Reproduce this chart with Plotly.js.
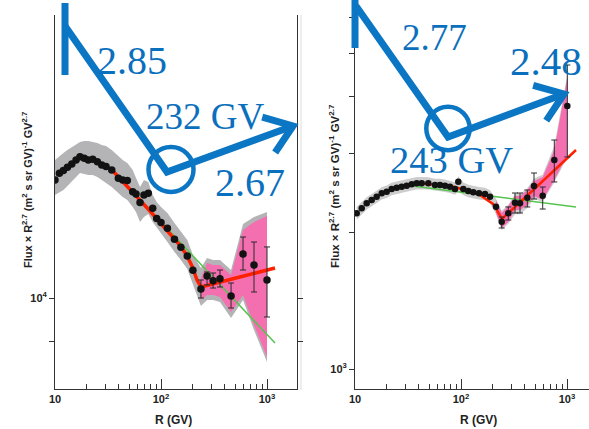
<!DOCTYPE html>
<html>
<head>
<meta charset="utf-8">
<script src="https://cdn.plot.ly/plotly-3.0.1.min.js"></script>
<style>
  html, body { margin: 0; padding: 0; background: #fff; }
  #chart { width: 589px; height: 429px; }
</style>
</head>
<body>
<div id="chart"></div>
<script>
// ---------- Proton panel (left) ----------
const protonR = [10.0, 11.0, 12.0, 13.1, 14.4, 15.8, 17.2, 18.9, 20.6, 22.7, 25.1, 27.6, 30.3, 34.3,
  39.6, 43.5, 48.1, 54.1, 58.1, 63.4, 69.1, 75.9, 83.5, 91.1, 100, 115, 134, 154, 177, 200,
  238, 272, 310, 360, 458, 594, 754, 1000];
const protonFlux = [13270, 13480, 13570, 13680, 13790, 13920, 14030, 13980, 13920, 13940, 13860, 13750,
  13700, 13590, 13320, 13270, 13250, 12900, 12830, 12570, 12800, 12850, 12400, 12100, 11980, 11820,
  11510, 11290, 11060, 10690, 10220, 10540, 10420, 10470, 10050, 11110, 10820, 10440];
// upper / lower ends of the statistical error bars (null = hidden by the marker)
const protonErrHi = [null, null, null, null, null, null, null, null, null, null, null, null, null, null,
  null, null, null, null, null, null, null, null, null, null, null, null, null, null, null, null,
  10441, 10643, 10617, 10694, 10366, 11573, 11436, 11301];
const protonErrLo = [null, null, null, null, null, null, null, null, null, null, null, null, null, null,
  null, null, null, null, null, null, null, null, null, null, null, null, null, null, null, null,
  10000, 10317, 10242, 10267, 9763, 10694, 10145, 9555];
// total (systematic) uncertainty band
const protonSysHi = [13919, 14053, 14154, 14256, 14359, 14463, 14532, 14567, 14567, 14532, 14497, 14428,
  14394, 14256, 14053, 13919, 13819, 13589, 13331, 13047, 13267, 13204, 12799, 12586, 12436, 12259,
  11969, 11741, 11491, 11085, 10745, 11006, 10953, 10953, 10694, 11940, 12142, 12288];
const protonSysLo = [12799, 12891, 12953, 13078, 13204, 13363, 13492, 13460, 13428, 13428, 13363, 13267,
  13172, 13047, 12861, 12738, 12647, 12436, 12288, 11997, 12142, 12230, 11997, 11826, 11685, 11436,
  11165, 10953, 10720, 10316, 9810, 9952, 9952, 9905, 9532, 9952, 9262, 8578];
// fit uncertainty above the break
const protonBandR = [238, 272, 310, 360, 458, 594, 754, 1000];
const protonBandHi = [10491, 10875, 10823, 10823, 10567, 11770, 11997, 12171];
const protonBandLo = [9952, 10072, 10072, 10024, 9670, 10072, 9374, 8682];
// broken power-law fit and single power-law extrapolation
const protonFitR = [34.5, 78.7, 144.7, 172.1, 196.1, 218.6, 238.4, 1190];
const protonFitFlux = [13589, 12318, 11409, 11112, 10797, 10441, 10267, 10745];
const protonSingleR = [34.5, 1190];
const protonSingleFlux = [13589, 8978];

// ---------- Helium panel (right) ----------
const heliumR = [10.38, 11.57, 12.89, 14.37, 16.02, 17.86, 19.91, 22.19, 24.74, 27.58, 30.74, 34.26,
  38.20, 42.58, 49.15, 56.83, 63.38, 70.65, 78.75, 87.80, 94.30, 105.1, 117.2, 130.6, 147.8, 168.4,
  187.8, 213.9, 242.1, 279.4, 323.1, 360.3, 422.3, 488.3, 589.9, 759.1, 1006.5];
const heliumFlux = [2211, 2268, 2326, 2365, 2405, 2447, 2467, 2502, 2518, 2531, 2544, 2562, 2575, 2575,
  2575, 2553, 2553, 2544, 2531, 2502, 2596, 2502, 2476, 2460, 2447, 2439, 2405, 2286, 2118, 2211,
  2333, 2326, 2393, 2540, 2418, 2900, 3818];
const heliumErrHi = [null, null, null, null, null, null, null, null, null, null, null, null, null, null,
  null, null, null, null, null, null, null, null, null, null, null, null, null, null,
  2169, 2283, 2451, 2451, 2489, 2714, 2527, 3211, 4705];
const heliumErrLo = [null, null, null, null, null, null, null, null, null, null, null, null, null, null,
  null, null, null, null, null, null, null, null, null, null, null, null, null, null,
  2051, 2136, 2214, 2214, 2283, 2377, 2259, 2593, 2945];
const heliumSysHi = [2285, 2342, 2400, 2440, 2482, 2525, 2546, 2582, 2598, 2612, 2625, 2644, 2658, 2658,
  2657, 2635, 2636, 2626, 2612, 2590, 2670, 2585, 2556, 2540, 2526, 2518, 2486, 2380, 2240, 2310,
  2440, 2440, 2510, 2640, 2690, 3120, 4480];
const heliumSysLo = [2140, 2196, 2254, 2292, 2330, 2371, 2390, 2424, 2440, 2452, 2465, 2482, 2495, 2495,
  2494, 2474, 2473, 2464, 2452, 2430, 2470, 2425, 2398, 2384, 2371, 2363, 2326, 2200, 2030, 2095,
  2200, 2200, 2270, 2380, 2340, 2590, 2940];
const heliumBandR = [213.9, 242.1, 279.4, 323.1, 360.3, 422.3, 488.3, 589.9, 759.1, 1006.5];
const heliumBandHi = [2365, 2214, 2294, 2414, 2414, 2489, 2606, 2659, 3052, 4404];
const heliumBandLo = [2214, 2051, 2115, 2248, 2248, 2306, 2414, 2365, 2619, 2975];
const heliumFitR = [43.8, 87.8, 151.1, 200.4, 228.3, 243.7, 265.8, 323.1, 1216];
const heliumFitFlux = [2573, 2527, 2426, 2318, 2203, 2147, 2191, 2283, 3052];
const heliumSingleR = [29.6, 1216];
const heliumSingleFlux = [2553, 2283];

// ---------- ticks ----------
const xTickVals = [10, 100, 1000];
const xTickText = ['<b>10</b>', '<b>10<sup>2</sup></b>', '<b>10<sup>3</sup></b>'];
const xMinorVals = [20, 30, 40, 50, 60, 70, 80, 90, 200, 300, 400, 500, 600, 700, 800, 900];
const protonTickVals = [10000];
const protonTickText = ['<b>10<sup>4</sup></b>'];
const protonMinorVals = [9000];
const heliumTickVals = [1000];
const heliumTickText = ['<b>10<sup>3</sup></b>'];
const heliumMinorVals = [2000, 3000, 4000, 5000, 6000];

// annotation labels
const slopeLabels = ['2.85', '2.67', '2.77', '2.48'];
const breakLabels = ['232 GV', '243 GV'];

// ---------- helpers ----------
const W = 589, H = 429;
const fx = x => x / W;
const fy = y => 1 - y / H;
const GRAY_L = '#b4b4b6', GRAY_R = '#cdcdcd', PINK = '#f46fb0', RED = '#ff2000', GREEN = '#55c44d';
const BLUE = '#0a76c4', BLUE_TEXT = '#0a6fbd';

function band(R, hi, lo, color, xa, ya) {
  return {
    x: R.concat(R.slice().reverse()),
    y: hi.concat(lo.slice().reverse()),
    xaxis: xa, yaxis: ya, mode: 'lines', fill: 'toself',
    fillcolor: color, line: {width: 0}, hoverinfo: 'skip'
  };
}
function line(R, F, color, width, xa, ya) {
  return {x: R, y: F, xaxis: xa, yaxis: ya, mode: 'lines', line: {color: color, width: width}};
}
function points(R, F, hi, lo, size, xa, ya) {
  return {
    x: R, y: F, xaxis: xa, yaxis: ya, mode: 'markers',
    marker: {color: '#121212', size: size},
    error_y: {
      type: 'data', symmetric: false,
      array: F.map((v, i) => hi[i] == null ? NaN : hi[i] - v),
      arrayminus: F.map((v, i) => lo[i] == null ? NaN : v - lo[i]),
      color: '#2a2a2a', thickness: 1, width: 3
    }
  };
}

const traces = [
  band(protonR, protonSysHi, protonSysLo, GRAY_L, 'x', 'y'),
  band(protonBandR, protonBandHi, protonBandLo, PINK, 'x', 'y'),
  line(protonSingleR, protonSingleFlux, GREEN, 1.5, 'x', 'y'),
  line(protonFitR, protonFitFlux, RED, 3.5, 'x', 'y'),
  points(protonR, protonFlux, protonErrHi, protonErrLo, 7.5, 'x', 'y'),
  band(heliumR, heliumSysHi, heliumSysLo, GRAY_R, 'x2', 'y2'),
  band(heliumBandR, heliumBandHi, heliumBandLo, PINK, 'x2', 'y2'),
  line(heliumSingleR, heliumSingleFlux, GREEN, 1.5, 'x2', 'y2'),
  line(heliumFitR, heliumFitFlux, RED, 2.5, 'x2', 'y2'),
  points(heliumR, heliumFlux, heliumErrHi, heliumErrLo, 6.5, 'x2', 'y2')
];

const tickFont = {family: 'Liberation Sans, Arial, sans-serif', size: 11, color: '#222'};
function xAxis(domain, range, anchor) {
  return {
    type: 'log', domain: domain, range: range, anchor: anchor,
    showgrid: false, zeroline: false, showline: true, linecolor: '#333', linewidth: 1,
    ticks: 'inside', ticklen: 10, tickcolor: '#333', tickwidth: 1,
    tickmode: 'array', tickvals: xTickVals, ticktext: xTickText, tickfont: tickFont,
    minor: {tickmode: 'array', tickvals: xMinorVals, ticks: 'inside', ticklen: 5, tickcolor: '#333', tickwidth: 1, showgrid: false}
  };
}
function yAxis(domain, range, anchor, vals, text, minorVals, mirror) {
  return {
    type: 'log', domain: domain, range: range, anchor: anchor,
    showgrid: false, zeroline: false, showline: true, linecolor: '#333', linewidth: 1,
    mirror: mirror, ticks: 'outside', ticklen: 5, tickcolor: '#333', tickwidth: 1,
    tickmode: 'array', tickvals: vals, ticktext: text, tickfont: tickFont,
    minor: {tickmode: 'array', tickvals: minorVals, ticks: 'outside', ticklen: 5, tickcolor: '#333', tickwidth: 1, showgrid: false}
  };
}

const yDom = [fy(389), fy(15)];

// hand-drawn style overlay: slope arrows and break circles
function pathOf(pts) {
  return pts.map((p, i) => (i ? 'L' : 'M') + fx(p[0]).toFixed(5) + ',' + fy(p[1]).toFixed(5)).join(' ');
}
function arrowHead(tail, tip, len, deg) {
  const a = Math.atan2(tail[1] - tip[1], tail[0] - tip[0]);
  const d = deg * Math.PI / 180;
  return [
    [tip[0] + len * Math.cos(a + d), tip[1] + len * Math.sin(a + d)],
    tip,
    [tip[0] + len * Math.cos(a - d), tip[1] + len * Math.sin(a - d)]
  ];
}
function stroke(pts, w) {
  return {type: 'path', xref: 'paper', yref: 'paper', path: pathOf(pts), line: {color: BLUE, width: w}};
}
function ring(cx, cy, r, w) {
  return {type: 'circle', xref: 'paper', yref: 'paper',
    x0: fx(cx - r), x1: fx(cx + r), y0: fy(cy + r), y1: fy(cy - r),
    line: {color: BLUE, width: w}};
}
const leftV = [167, 172], leftTip = [293, 126];
const rightV = [448, 137], rightTip = [564, 94];
const shapes = [
  stroke([[65, 3], [65, 75]], 7),
  stroke([[65, 26], leftV, leftTip], 7),
  stroke(arrowHead(leftV, leftTip, 32, 36), 7),
  ring(171, 169.5, 22.5, 4.5),
  stroke([[355, 0], [355, 48]], 7),
  stroke([[356, 6], rightV, rightTip], 7),
  stroke(arrowHead(rightV, rightTip, 32, 36), 7),
  ring(448, 128.5, 21.7, 4.5),
  // edge of the right-hand figure
  {type: 'line', xref: 'paper', yref: 'paper', x0: fx(301), x1: fx(301), y0: fy(390), y1: fy(15),
   line: {color: '#dcdcdc', width: 1}, layer: 'below'}
];

function label(text, x, y, size, color, family, extra) {
  return Object.assign({
    text: text, xref: 'paper', yref: 'paper', x: fx(x), y: fy(y),
    xanchor: 'center', yanchor: 'middle', showarrow: false,
    font: {family: family, size: size, color: color}
  }, extra || {});
}
const SERIF = 'Liberation Serif, Times New Roman, serif';
const SANS = 'Liberation Sans, Arial, sans-serif';
const yTitle = '<b>Flux \u00d7 R<sup>2.7</sup> (m<sup>2</sup> s sr GV)<sup>-1</sup> GV<sup>2.7</sup></b>';
const annotations = [
  label(slopeLabels[0], 132, 60, 40, BLUE_TEXT, SERIF),
  label(breakLabels[0], 205, 117, 37, BLUE_TEXT, SERIF),
  label(slopeLabels[1], 250, 182, 40, BLUE_TEXT, SERIF),
  label(slopeLabels[2], 434.5, 37.5, 37, BLUE_TEXT, SERIF),
  label(slopeLabels[3], 546, 61, 41, BLUE_TEXT, SERIF),
  label(breakLabels[1], 451.5, 160, 38.5, BLUE_TEXT, SERIF),
  label(yTitle, 27, 190, 11, '#222', SANS, {textangle: -90}),
  label(yTitle, 334, 186, 11.5, '#222', SANS, {textangle: -90}),
  label('<b>R (GV)</b>', 173, 420, 12, '#222', SANS),
  label('<b>R (GV)</b>', 478, 420, 12, '#222', SANS)
];

const layout = {
  width: W, height: H,
  margin: {l: 0, r: 0, t: 0, b: 0},
  paper_bgcolor: '#fff', plot_bgcolor: 'rgba(0,0,0,0)',
  showlegend: false, hovermode: false,
  xaxis: xAxis([fx(55), fx(297)], [1, 1 + 242 / 106], 'y'),
  yaxis: yAxis(yDom, [4 - 91 / 961, 4 + 283 / 961], 'x', protonTickVals, protonTickText, protonMinorVals, 'ticks'),
  xaxis2: xAxis([fx(355), 1], [1, 1 + 234 / 106], 'y2'),
  yaxis2: yAxis(yDom, [3 - 20 / 452, 3 + 354 / 452], 'x2', heliumTickVals, heliumTickText, heliumMinorVals, false),
  shapes: shapes,
  annotations: annotations
};

Plotly.newPlot('chart', traces, layout, {displayModeBar: false, staticPlot: true});
</script>
</body>
</html>
